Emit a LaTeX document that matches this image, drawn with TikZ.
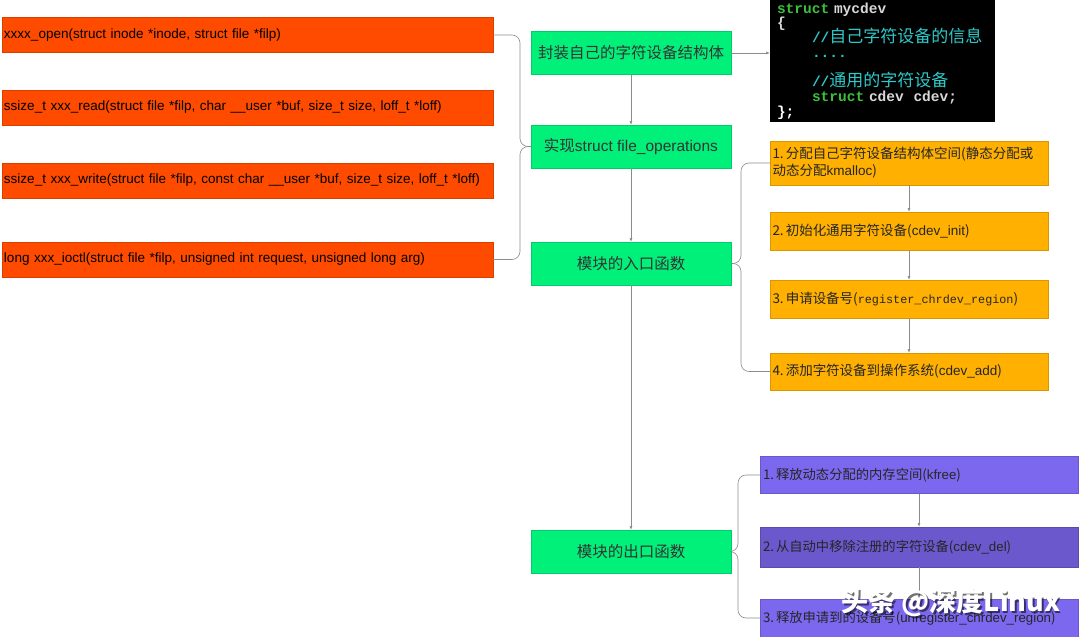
\documentclass[tikz,border=0pt]{standalone}
\usepackage{fontspec}
\setmainfont{Liberation Sans}
\newfontfamily\cjk{Noto Sans CJK SC}
\newfontfamily\codefont{Liberation Mono}
\usetikzlibrary{arrows.meta}

\definecolor{funcred}{HTML}{FF4B00}
\definecolor{stepgreen}{HTML}{00F07A}
\definecolor{initorange}{HTML}{FFB000}
\definecolor{exitpurple}{HTML}{7B68EE}
\definecolor{exitdark}{HTML}{6A58CC}
\definecolor{linegray}{HTML}{8C8C8C}
\definecolor{kwgreen}{HTML}{3CC03C}
\definecolor{cmcyan}{HTML}{30C8C8}
\definecolor{codegray}{HTML}{D8D8D8}

\tikzset{
  box/.style={inner sep=0pt, outer sep=0pt, draw=#1!85!black, line width=0.4pt, fill=#1},
  funcbox/.style={box=funcred, minimum width=491pt, minimum height=35pt,
    text width=487pt, align=left, text=black, font=\fontsize{13.5}{16}\selectfont},
  stepbox/.style={box=stepgreen, minimum width=200pt, minimum height=43pt,
    text=black!80, font=\cjk\fontsize{15.5}{18}\selectfont},
  initbox/.style={box=initorange, minimum width=278pt, text width=273pt, align=left,
    text=black!85, font=\cjk\fontsize{13.5}{17}\selectfont},
  exitbox/.style={box=#1, minimum width=318pt, text width=312pt, align=left,
    text=black!85, font=\cjk\fontsize{13.3}{18}\selectfont},
  codebox/.style={fill=black, inner xsep=7pt, inner ysep=0pt, outer sep=0pt,
    minimum width=225pt, minimum height=122pt, text width=211pt, align=left,
    text=codegray, font=\codefont\bfseries\fontsize{14.5}{14.7}\selectfont},
  flow/.style={draw=linegray, line width=0.6pt, -{Latex[length=4pt,width=3pt]}},
  brace/.style={draw=linegray, line width=0.6pt, rounded corners=8pt},
  watermark/.style={text=white, font=\cjk\bfseries\fontsize{27}{30}\selectfont},
}
\newcommand\regword[1]{{\codefont\mdseries\fontsize{11.8}{14}\selectfont #1}}
\newcommand\cmtext[1]{{\cjk\mdseries\fontsize{17}{14.7}\selectfont #1}}

\begin{document}
\begin{tikzpicture}[x=1pt,y=-1pt]
\useasboundingbox (0,0) rectangle (1080,637);
\fill[white] (0,0) rectangle (1080,637);

% file_operations members
\node[funcbox] (f1) at (247.5,35)    {xxxx\_open(struct inode *inode, struct file *filp)};
\node[funcbox] (f2) at (247.5,107.5) {ssize\_t xxx\_read(struct file *filp, char \_\_user *buf, size\_t size, loff\_t *loff)};
\node[funcbox] (f3) at (247.5,180.5) {ssize\_t xxx\_write(struct file *filp, const char \_\_user *buf, size\_t size, loff\_t *loff)};
\node[funcbox] (f4) at (247.5,259.5) {long xxx\_ioctl(struct file *filp, unsigned int request, unsigned long arg)};

% main steps
\node[stepbox] (g1) at (631,53)    {封装自己的字符设备结构体};
\node[stepbox] (g2) at (631,146.5) {实现{\rmfamily struct file\_operations}};
\node[stepbox] (g3) at (631,263.5) {模块的入口函数};
\node[stepbox] (g4) at (631,551.5) {模块的出口函数};

% struct mycdev
\node[codebox, anchor=north west] (code) at (770,0) {\lineskiplimit=-20pt
{\color{kwgreen}struct}\ mycdev\\
\{\\
\hspace*{35pt}{\color{cmcyan}//\cmtext{自己字符设备的信息}}\\
\hspace*{35pt}{\color{cmcyan}....}\\
\mbox{}\\
\hspace*{35pt}{\color{cmcyan}//\cmtext{通用的字符设备}}\\
\hspace*{35pt}{\color{kwgreen}struct}\ cdev\ \ cdev;\\
{\color{white}\};}};

% module init
\node[initbox, minimum height=44pt] (o1) at (909,163)   {1.\hspace{2pt}分配自己字符设备结构体空间(静态分配或\\动态分配{\rmfamily kmalloc})};
\node[initbox, minimum height=38pt] (o2) at (909,231)   {2.\hspace{2pt}初始化通用字符设备({\rmfamily cdev\_init})};
\node[initbox, minimum height=38pt] (o3) at (909,299)   {3.\hspace{2pt}申请设备号(\regword{register\_chrdev\_region})};
\node[initbox, minimum height=37pt] (o4) at (909,371.5) {4.\hspace{2pt}添加字符设备到操作系统({\rmfamily cdev\_add})};

% module exit
\node[exitbox=exitpurple, minimum height=37pt] (p1) at (919,475) {1.\hspace{2pt}释放动态分配的内存空间({\rmfamily kfree})};
\node[exitbox=exitdark,   minimum height=40pt] (p2) at (919,547) {2.\hspace{2pt}从自动中移除注册的字符设备({\rmfamily cdev\_del})};
\node[exitbox=exitpurple, minimum height=38pt] (p3) at (919,618) {3.\hspace{2pt}释放申请到的设备号({\rmfamily unregister\_chrdev\_region})};

% arrows
\draw[flow] (g1) -- (g2);
\draw[flow] (g2) -- (g3);
\draw[flow] (g3) -- (g4);
\draw[flow] (g1.east) -- (g1.east -| code.west);
\draw[flow] (o1) -- (o2);
\draw[flow] (o2) -- (o3);
\draw[flow] (o3) -- (o4);
\draw[flow] (p1) -- (p2);
\draw[flow] (p2) -- (p3);

% braces
\draw[brace] (f1.east) -| (520,146.5) -- (g2.west);
\draw[brace] (f4.east) -| (520,146.5) -- (g2.west);
\draw[brace] (g3.east) -- (741,263.5) |- (o1.west);
\draw[brace] (g3.east) -- (741,263.5) |- (o4.west);
\draw[brace] (g4.east) -- (738,551.5) |- (p1.west);
\draw[brace] (g4.east) -- (738,551.5) |- (p3.west);

% watermark
\node[watermark, text=black, opacity=0.55] (markshadow) at (952.5,604.5) {头条 @深度Linux};
\node[watermark] (marktext) at (951,603) {头条 @深度Linux};
\end{tikzpicture}
\end{document}
